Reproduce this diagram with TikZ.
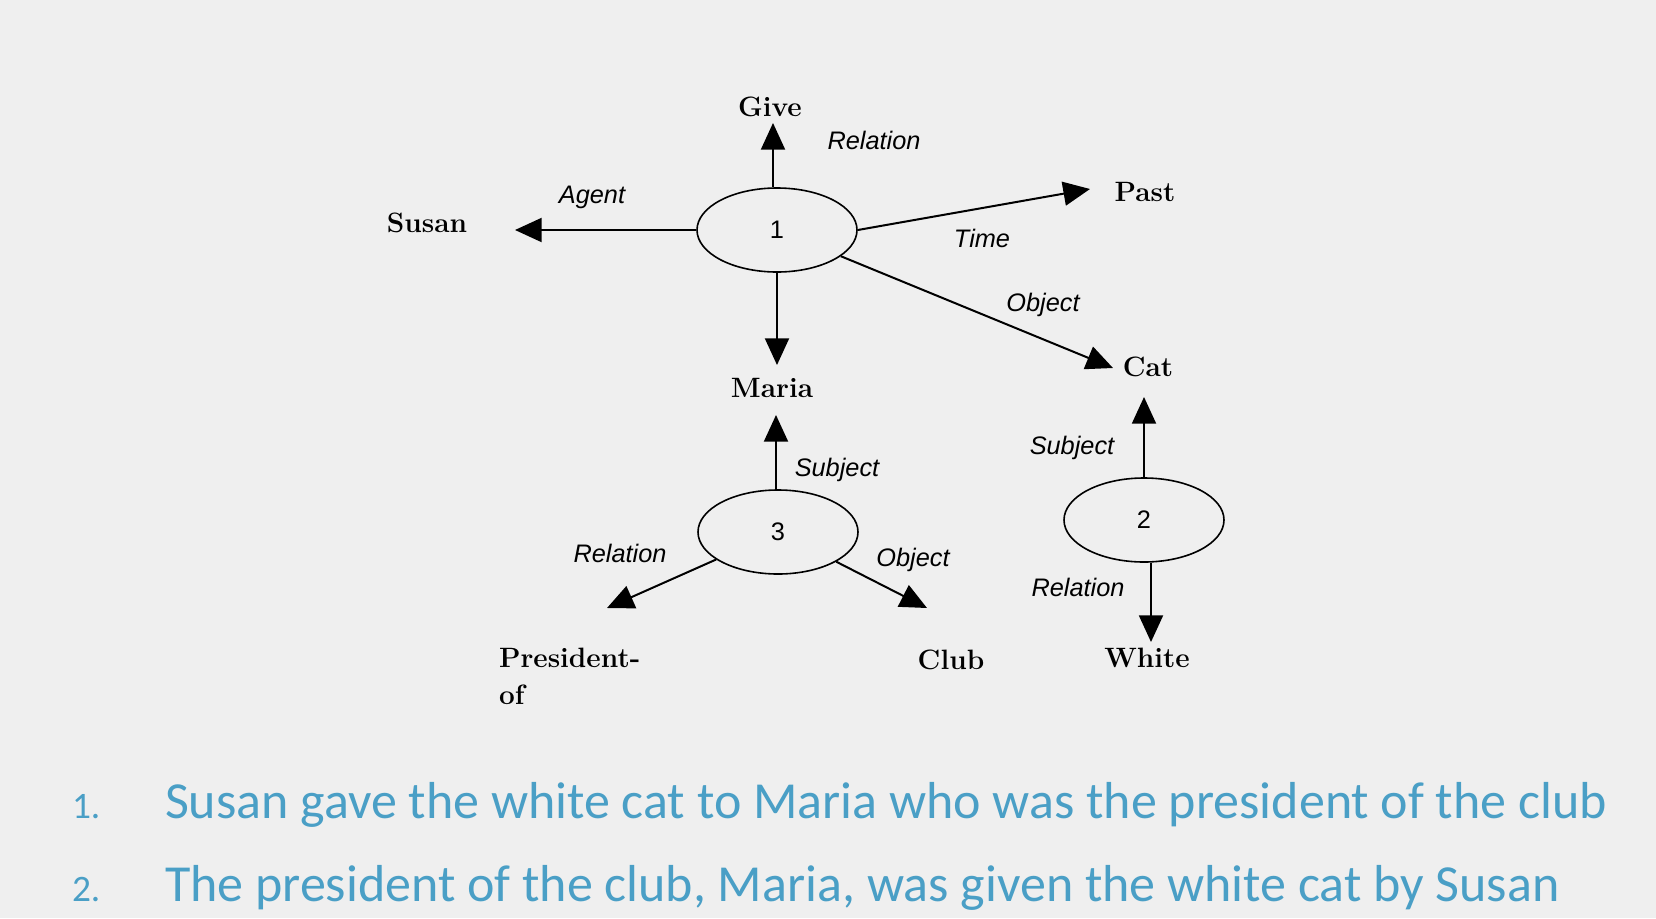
\documentclass[tikz,border=0pt]{standalone}
\usepackage{fontspec}
\setsansfont{Liberation Sans}
\newfontfamily\slidefont{Carlito}
\usetikzlibrary{arrows.meta,shapes.geometric}

\definecolor{slidebg}{HTML}{EFEFEF}
\definecolor{slideblue}{HTML}{4A9FC6}

\tikzset{every picture/.style={line width=1.5pt}}
\tikzset{
  prop/.style={draw, ellipse, line width=1.2pt, minimum width=120pt, minimum height=63pt, inner sep=0pt, font=\sffamily\fontsize{19}{19}\selectfont},
  word/.style={inner sep=0.75pt, font=\bfseries\fontsize{21}{21}\selectfont},
  role/.style={inner sep=0.75pt, font=\sffamily\itshape\fontsize{19}{19}\selectfont},
  link/.style={-{Triangle[length=20pt,width=18pt]}},
  sentence/.style={inner sep=0pt, anchor=base west, text=slideblue, font=\slidefont\fontsize{39}{39}\selectfont},
  enum/.style={inner sep=0pt, anchor=base west, text=slideblue, font=\slidefont\fontsize{28}{28}\selectfont}
}

\begin{document}
\begin{tikzpicture}[x=0.75pt,y=0.75pt,yscale=-1,xscale=1]
%set diagram to the slide size
\fill [slidebg] (0,0) rectangle (1656,918);
\useasboundingbox (0,0) rectangle (1656,918);

%Shape: Ellipse [id:dp1]
\draw (777,230) node [prop] (p1) {1};
%Shape: Ellipse [id:dp2]
\draw (1144,520) node [prop] (p2) {2};
%Shape: Ellipse [id:dp3]
\draw (778,532) node [prop] (p3) {3};

% Text Node
\draw (770,107) node [word] (give) {Give};
% Text Node
\draw (427,223) node [word] (susan) {Susan};
% Text Node
\draw (1145,192) node [word] (past) {Past};
% Text Node
\draw (1148,367) node [word] (cat) {Cat};
% Text Node
\draw (772,388) node [word] (maria) {Maria};
% Text Node
\draw (497,646) node [word, anchor=north west, align=left, font=\bfseries\fontsize{21}{28}\selectfont] (pres) {President-\\of};
% Text Node
\draw (951,660) node [word] (club) {Club};
% Text Node
\draw (1147,658) node [word] (white) {White};

%arrow ends
\coordinate (tGive) at (773,123);
\coordinate (tSusan) at (515,230);
\coordinate (tPast) at (1090,189);
\coordinate (tCat) at (1113,368);
\coordinate (tMaria) at (777,365);
\coordinate (tMaria3) at (776,415);
\coordinate (tPres) at (607,608);
\coordinate (tClub) at (927,608);
\coordinate (tCat2) at (1144,397);
\coordinate (tWhite) at (1151,642);

%Straight Lines [id:da1]
\draw [link] (p1.north -| tGive) -- (tGive);
%Straight Lines [id:da2]
\draw [link] (p1.west) -- (tSusan);
%Straight Lines [id:da3]
\draw [link] (p1.east) -- (tPast);
%Straight Lines [id:da4]
\draw [link] (p1) -- (tCat);
%Straight Lines [id:da5]
\draw [link] (p1.south) -- (tMaria);
%Straight Lines [id:da6]
\draw [link] (p3.north -| tMaria3) -- (tMaria3);
%Straight Lines [id:da7]
\draw [link] (p3) -- (tPres);
%Straight Lines [id:da8]
\draw [link] (p3) -- (tClub);
%Straight Lines [id:da9]
\draw [link] (p2.north) -- (tCat2);
%Straight Lines [id:da10]
\draw [link] (p2.south -| tWhite) -- (tWhite);

% Text Node
\draw (874,140) node [role] (lRel1) {Relation};
% Text Node
\draw (592,197) node [role] (lAgent) {Agent};
% Text Node
\draw (982,238) node [role] (lTime) {Time};
% Text Node
\draw (1043,305) node [role] (lObj1) {Object};
% Text Node
\draw (837,470) node [role] (lSubj3) {Subject};
% Text Node
\draw (620,553) node [role] (lRel3) {Relation};
% Text Node
\draw (913,560) node [role] (lObj3) {Object};
% Text Node
\draw (1072,448) node [role] (lSubj2) {Subject};
% Text Node
\draw (1078,587) node [role] (lRel2) {Relation};

% Text Node
\draw (71,818) node [enum] (n1) {1.};
% Text Node
\draw (164,818) node [sentence] (s1) {Susan gave the white cat to Maria who was the president of the club};
% Text Node
\draw (71,901) node [enum] (n2) {2.};
% Text Node
\draw (164,901) node [sentence] (s2) {The president of the club, Maria, was given the white cat by Susan};
\end{tikzpicture}
\end{document}
